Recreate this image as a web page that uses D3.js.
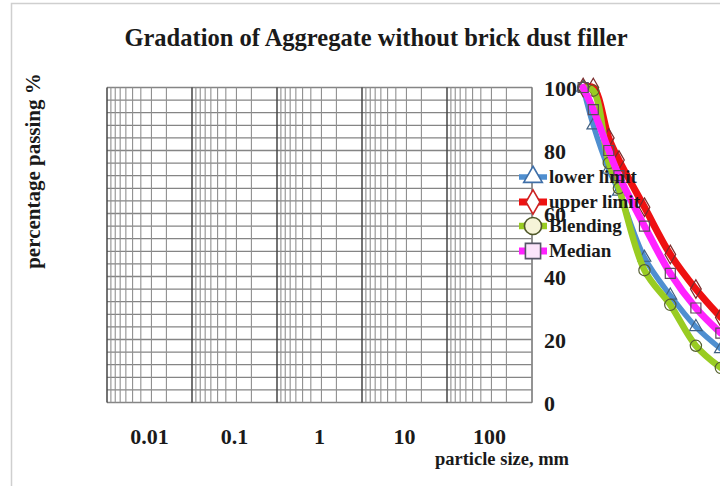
<!DOCTYPE html>
<html>
<head>
<meta charset="utf-8">
<script src="https://cdn.jsdelivr.net/npm/d3@7/dist/d3.min.js"></script>
<style>
  html, body { margin: 0; padding: 0; background: #fff; }
  svg { display: block; }
  text { font-family: "Liberation Serif", "Times New Roman", serif; font-weight: bold; fill: #1a1a1a; }
</style>
</head>
<body>
<div id="chart"></div>
<script>
// ---- data ----
const sieveSizes = [25, 19, 12.5, 9.5, 4.75, 2.36, 1.18, 0.6];          // mm
const lowerLimit = [100, 88, 74, 67, 46, 34, 24, 17];
const upperLimit = [100, 100, 84, 77, 62, 47, 36, 27];
const blending   = [100, 99, 76, 68, 42, 31, 18, 11];
const median     = [100, 93, 80, 72, 56, 41, 30, 22];
const seriesNames = ["lower limit", "upper limit", "Blending", "Median"];
const xTickLabels = ["0.01", "0.1", "1", "10", "100"];
const yTickValues = [0, 20, 40, 60, 80, 100];
const titleText = "Gradation of Aggregate without brick dust filler";
const xTitle = "particle size, mm";
const yTitle = "percentage passing %";

const W = 720, H = 486;
const svg = d3.select("#chart").append("svg").attr("width", W).attr("height", H);
svg.append("rect").attr("width", W).attr("height", H).attr("fill", "#fff");

// chart frame (top and left borders)
svg.append("path").attr("d", "M11.5,486 V3.5 H720").attr("fill", "none").attr("stroke", "#cfcfcf").attr("stroke-width", 1.5);

const plot = { left: 107, right: 532, top: 87.5, bottom: 402.5 };

// reversed log axis (as in the source chart)
const x = d3.scaleLog().domain([1e7, 100]).range([plot.left, plot.right]);
const y = d3.scaleLinear().domain([0, 100]).range([plot.bottom, plot.top]);

// ---- grid ----
const grid = svg.append("g");
const yGrid = d3.range(0, 101, 4);
grid.selectAll("line.h").data(yGrid).join("line")
  .attr("x1", plot.left).attr("x2", plot.right)
  .attr("y1", d => y(d)).attr("y2", d => y(d))
  .attr("stroke", "#858585").attr("stroke-width", 1.3);

const vt = x.ticks();
const isMajor = d => Math.abs(Math.log10(d) - Math.round(Math.log10(d))) < 1e-9;
grid.selectAll("line.v").data(vt).join("line")
  .attr("x1", d => x(d)).attr("x2", d => x(d))
  .attr("y1", plot.top).attr("y2", plot.bottom)
  .attr("stroke", d => isMajor(d) ? "#444" : "#909090")
  .attr("stroke-width", d => isMajor(d) ? 1.5 : 1.1);
grid.append("line").attr("x1", plot.right).attr("x2", plot.right).attr("y1", plot.top).attr("y2", plot.bottom)
  .attr("stroke", "#aaa").attr("stroke-width", 1.2);

// ---- x tick labels (centred in each decade band) ----
const xb = d3.scaleBand().domain(xTickLabels).range([plot.left, plot.right]);
svg.selectAll("text.xt").data(xTickLabels).join("text")
  .attr("x", d => xb(d) + xb.bandwidth() / 2).attr("y", 444)
  .attr("text-anchor", "middle").attr("font-size", 22).text(d => d);

// ---- y tick labels on the right ----
svg.selectAll("text.yt").data(yTickValues).join("text")
  .attr("x", 544).attr("y", d => y(d) + 8)
  .attr("font-size", 22).text(d => d);

// ---- titles ----
svg.append("text").attr("x", 376).attr("y", 46).attr("text-anchor", "middle")
  .attr("font-size", 24.5).text(titleText);
svg.append("text").attr("x", 502).attr("y", 465).attr("text-anchor", "middle")
  .attr("font-size", 18.5).text(xTitle);
svg.append("text").attr("transform", "translate(40,171) rotate(-90)").attr("text-anchor", "middle")
  .attr("font-size", 21).text(yTitle);

// ---- series ----
const colors = ["#4f8fd0", "#ee1111", "#99cc22", "#ff22ff"];
const widths = [5.5, 7, 6.5, 7];
const symbols = [d3.symbolTriangle, d3.symbolDiamond, d3.symbolCircle, d3.symbolSquare];
const markerStroke = ["#3f5f80", "#7a2a2a", "#556030", "#5a4a5a"];
const allSeries = [lowerLimit, upperLimit, blending, median];

const line = d3.line().x(d => x(d[0])).y(d => y(d[1])).curve(d3.curveCatmullRom.alpha(0.5));

allSeries.forEach((vals, i) => {
  const pts = sieveSizes.map((s, j) => [s, vals[j]]);
  svg.append("path").datum(pts).attr("d", line)
    .attr("fill", "none").attr("stroke", colors[i]).attr("stroke-width", widths[i])
    .attr("stroke-linejoin", "round").attr("stroke-linecap", "round");
  svg.selectAll(null).data(pts).join("path")
    .attr("transform", d => `translate(${x(d[0])},${y(d[1])})`)
    .attr("d", d3.symbol().type(symbols[i]).size(i === 0 ? 70 : 100))
    .attr("fill", "none").attr("stroke", markerStroke[i]).attr("stroke-width", 1.2);
});

// ---- legend ----
const legendRowsY = [177, 202, 226, 251];
const legFill = ["#ffffff", "#ffffff", "#f6f4d8", "#fbe4fb"];
const legStroke = ["#3f6fa8", "#cc2222", "#50582a", "#555566"];
const lg = svg.append("g");
seriesNames.forEach((name, i) => {
  const cy = legendRowsY[i];
  lg.append("line").attr("x1", 519).attr("x2", 547).attr("y1", cy).attr("y2", cy)
    .attr("stroke", colors[i]).attr("stroke-width", widths[i]);
  lg.append("path").attr("transform", `translate(533,${cy})`)
    .attr("d", d3.symbol().type(symbols[i]).size(i === 0 ? 150 : (i === 1 ? 170 : 230)))
    .attr("fill", legFill[i]).attr("stroke", legStroke[i]).attr("stroke-width", 1.6);
  lg.append("text").attr("x", 549).attr("y", cy + 6).attr("font-size", 19).text(name);
});
</script>
</body>
</html>
